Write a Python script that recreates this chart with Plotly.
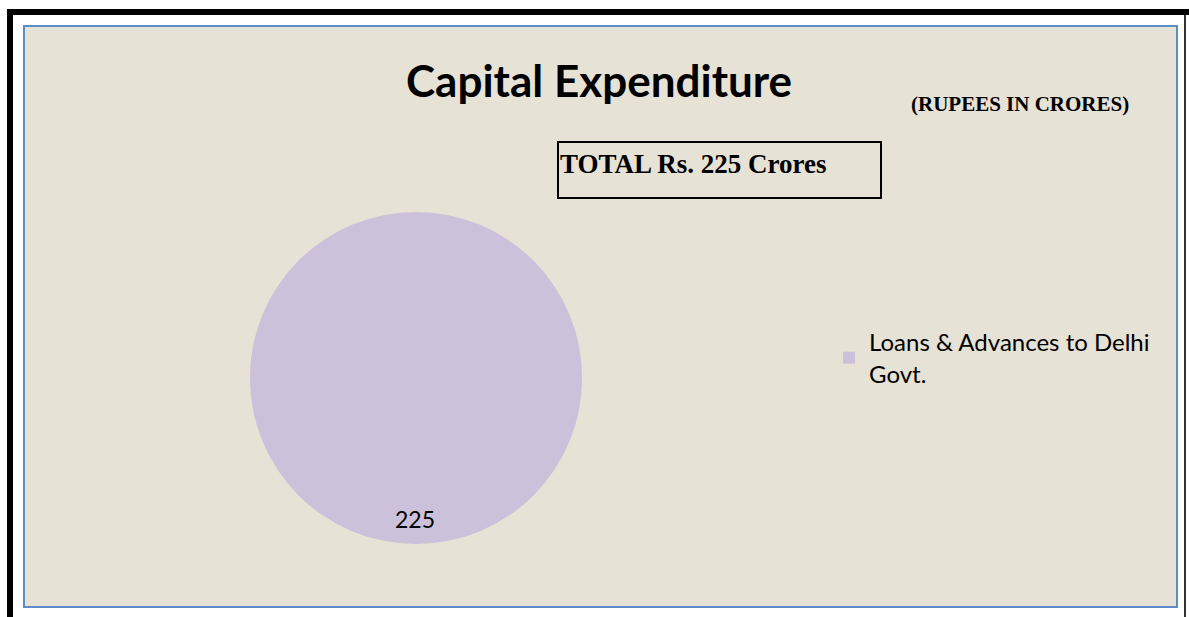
import plotly.graph_objects as go

labels = ["Loans & Advances to Delhi<br>Govt."]
values = [225]
colors = ["#CCC1DA"]
title_text = "Capital Expenditure"
unit_text = "(RUPEES IN CRORES)"
total_text = "TOTAL Rs. 225 Crores"

W, H = 1189, 617

def px(x):
    return x / W

def py(y):
    return 1 - y / H

fig = go.Figure()
fig.add_trace(go.Pie(
    labels=labels,
    values=values,
    marker=dict(colors=colors, line=dict(width=0)),
    textinfo="none",
    sort=False,
    hoverinfo="label+value",
    domain=dict(x=[px(250), px(582)], y=[py(544), py(212)]),
    showlegend=True,
))

shapes = [
    dict(type="rect", xref="paper", yref="paper", x0=px(7), x1=1, y0=py(15), y1=py(9),
         fillcolor="black", line=dict(width=0), layer="below"),
    dict(type="rect", xref="paper", yref="paper", x0=px(7), x1=px(13), y0=0, y1=py(9),
         fillcolor="black", line=dict(width=0), layer="below"),
    dict(type="line", xref="paper", yref="paper", x0=px(1185), x1=px(1185), y0=0, y1=py(15),
         line=dict(color="#333333", width=2), layer="below"),
    dict(type="rect", xref="paper", yref="paper", x0=px(24), x1=px(1177), y0=py(607), y1=py(26),
         fillcolor="#E6E2D6", line=dict(color="#5E8CC6", width=2), layer="below"),
    dict(type="rect", xref="paper", yref="paper", x0=px(558), x1=px(881), y0=py(198), y1=py(142),
         fillcolor="rgba(0,0,0,0)", line=dict(color="black", width=2), layer="above"),
]

annotations = [
    dict(text="<b>" + title_text + "</b>", xref="paper", yref="paper", x=px(599), y=py(80),
         xanchor="center", yanchor="middle", showarrow=False,
         font=dict(family="Lato, Carlito, sans-serif", size=44, color="black")),
    dict(text="<b>" + unit_text + "</b>", xref="paper", yref="paper", x=px(1020), y=py(104),
         xanchor="center", yanchor="middle", showarrow=False,
         font=dict(family="Liberation Serif, Times New Roman, serif", size=21, color="black")),
    dict(text="<b>" + total_text + "</b>", xref="paper", yref="paper", x=px(558), y=py(164),
         xanchor="left", yanchor="middle", showarrow=False,
         font=dict(family="Liberation Serif, Times New Roman, serif", size=27, color="black")),
    dict(text=str(values[0]), xref="paper", yref="paper", x=px(415), y=py(519),
         xanchor="center", yanchor="middle", showarrow=False,
         font=dict(family="Lato, Carlito, sans-serif", size=23, color="black")),
]

fig.update_layout(
    width=W, height=H,
    margin=dict(l=0, r=0, t=0, b=0),
    paper_bgcolor="white",
    plot_bgcolor="white",
    shapes=shapes,
    annotations=annotations,
    legend=dict(x=px(829), y=py(320), xanchor="left", yanchor="top",
                bgcolor="rgba(0,0,0,0)",
                font=dict(family="Lato, Carlito, sans-serif", size=24, color="black"),
                itemsizing="constant"),
)

fig.write_html("out.html", config={"displayModeBar": False},
               post_script="document.body.style.margin='0';document.body.style.padding='0';document.body.style.overflow='hidden';")
